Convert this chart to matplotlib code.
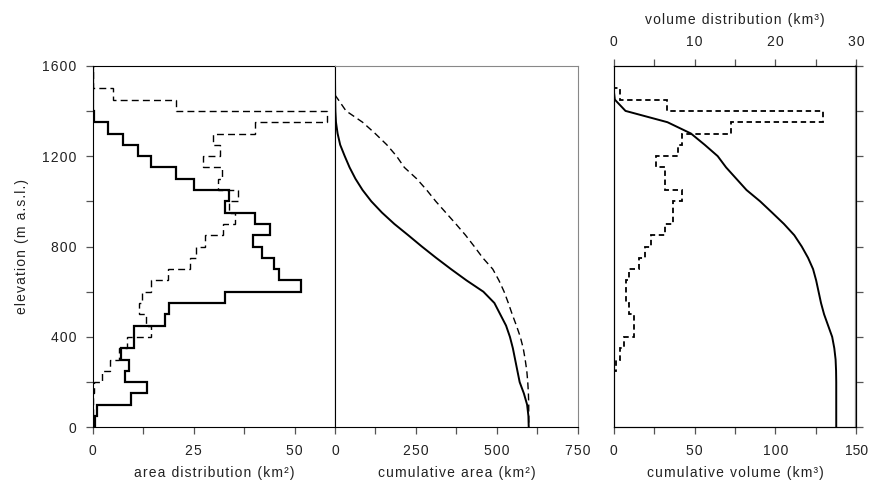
# plot.py
# Elevation profiles: area distribution, cumulative area, volume distribution / cumulative volume.

import numpy as np
import matplotlib.pyplot as plt
from matplotlib.ticker import MultipleLocator, FixedLocator, NullFormatter, FuncFormatter

plt.rcParams['font.family'] = ['Liberation Sans', 'DejaVu Sans']
plt.rcParams['font.size'] = 10

# 50 m elevation bands, edges from 0 to 1600 m a.s.l.
band_edges = np.arange(0, 1650, 50)

# area per band (km2), listed bottom band (0-50) to top band (1550-1600)
area_solid = [0.5, 1.0, 9.6, 13.4, 8.1, 8.9, 7.1, 10.2, 10.2, 17.9, 18.9, 32.8,
              51.5, 46.2, 44.8, 42.0, 39.8, 44.0, 40.3, 32.8, 33.7, 25.0, 20.5,
              14.4, 11.3, 7.4, 3.7, 0.3, 0, 0, 0, 0]
area_dashed = [0.1, 0.1, 0.1, 0.2, 2.2, 4.3, 6.6, 8.6, 14.4, 13.1, 11.5, 12.2,
               14.5, 18.7, 24.0, 25.5, 27.7, 32.2, 35.2, 33.8, 36.1, 31.0, 31.9,
               27.3, 31.6, 29.9, 40.2, 57.9, 20.7, 4.9, 0, 0]

# cumulative area (km2), summed from the top down
cum_elev = [1555, 1500, 1450, 1400, 1350, 1300, 1250, 1200, 1150, 1100, 1050,
            1000, 950, 900, 850, 800, 750, 700, 650, 600, 550, 500, 450, 400,
            350, 300, 250, 200, 150, 100, 50, 0]
cum_area_solid = [0, 0.3, 0.6, 1.2, 3, 8, 16, 30, 45, 63, 85, 112, 145, 183,
                  226, 268, 312, 358, 406, 458, 492, 510, 528, 540, 549, 556,
                  563, 570, 583, 593, 597, 598]
cum_elev_dashed = [1470, 1450, 1400, 1350, 1300, 1250, 1200, 1150, 1100, 1050,
                   1000, 950, 900, 850, 800, 750, 700, 650, 600, 550, 500, 450,
                   400, 350, 300, 250, 200, 150, 100, 0]
cum_area_dashed = [0, 10, 34, 85, 124, 160, 190, 214, 252, 283, 311, 342, 373,
                   403, 430, 456, 487, 506, 522, 535, 547, 560, 572, 581, 587,
                   592, 595, 597, 598, 598]

# volume per band (km3), bands 0-50 ... 1500-1550
vol_edges = np.arange(0, 1600, 50)
vol_dist = [0, 0, 0, 0, 0, 0.25, 0.74, 1.3, 2.5, 2.5, 1.9, 1.5, 1.5, 1.9, 3.1,
            3.9, 4.6, 6.4, 7.3, 7.3, 8.4, 6.3, 6.3, 5.2, 8.0, 8.5, 14.5, 25.9,
            6.6, 0.83, 0]

# cumulative volume (km3)
cum_vol_elev = [1550, 1500, 1450, 1400, 1350, 1300, 1250, 1200, 1150, 1100,
                1050, 1000, 950, 900, 850, 800, 750, 700, 650, 600, 550, 500,
                450, 400, 350, 300, 250, 200, 0]
cum_vol = [0, 0, 0.8, 7.4, 33.3, 47.8, 56.3, 64.3, 69.5, 75.8, 82.1, 90.5,
           97.9, 105.2, 111.6, 116.2, 120.1, 123.2, 125.1, 126.6, 128.1, 130.0,
           132.5, 135.0, 136.3, 137.1, 137.4, 137.5, 137.5]

tick_col = '#555555'
txt_col = '#222222'


def spaced(s, gap='\u200a'):
    # the original lettering is tracked out a little
    return gap.join(s)


tick_fmt = FuncFormatter(lambda v, pos: spaced('%g' % v))
# last label of the right panel sits on the figure edge, keep it tight
edge_fmt = FuncFormatter(lambda v, pos: '%g' % v if v >= 150 else spaced('%g' % v))

fig = plt.figure(figsize=(8.69, 4.94), dpi=100)
ax1 = fig.add_axes([0.1067, 0.135, 0.2788, 0.732])
ax2 = fig.add_axes([0.3855, 0.135, 0.2796, 0.732])
ax3 = fig.add_axes([0.706, 0.135, 0.2796, 0.732])
ax4 = ax3.twiny()

# left: area distribution
ax1.stairs(area_solid, band_edges, orientation='horizontal', baseline=None,
           color='black', lw=1.6)
ax1.stairs(area_dashed, band_edges, orientation='horizontal', baseline=None,
           color='black', lw=1.0, ls=(0, (5, 3)))
ax1.set_xlim(0, 60)
ax1.set_ylim(0, 1600)
ax1.xaxis.set_major_locator(FixedLocator([0, 25, 50]))
ax1.xaxis.set_minor_locator(FixedLocator([12.5, 37.5]))
ax1.yaxis.set_major_locator(MultipleLocator(400))
ax1.yaxis.set_minor_locator(MultipleLocator(200))
ax1.set_xlabel(spaced('area distribution (km²)'), color=txt_col, labelpad=6)
ax1.set_ylabel(spaced('elevation (m a.s.l.)'), color=txt_col, labelpad=9)

# middle: cumulative area
ax2.plot(cum_area_solid, cum_elev, color='black', lw=1.4)
ax2.plot(cum_area_dashed, cum_elev_dashed, color='black', lw=1.0, ls=(0, (5, 3)))
ax2.set_xlim(0, 750)
ax2.set_ylim(0, 1600)
ax2.xaxis.set_major_locator(MultipleLocator(250))
ax2.xaxis.set_minor_locator(MultipleLocator(125))
ax2.set_yticks([])
ax2.set_xlabel(spaced('cumulative area (km²)'), color=txt_col, labelpad=6)
ax2.spines['right'].set_color('#888888')
ax2.spines['top'].set_color('#888888')

# right: cumulative volume (bottom) and volume distribution (top)
ax3.plot(cum_vol, cum_vol_elev, color='black', lw=1.4)
ax3.set_xlim(0, 150)
ax3.set_ylim(0, 1600)
ax3.xaxis.set_major_locator(MultipleLocator(50))
ax3.xaxis.set_minor_locator(MultipleLocator(25))
ax3.yaxis.tick_right()
ax3.yaxis.set_major_locator(MultipleLocator(200))
ax3.yaxis.set_major_formatter(NullFormatter())
ax3.set_xlabel(spaced('cumulative volume (km³)'), color=txt_col, labelpad=6)
ax3.spines['right'].set_color('#888888')
ax3.spines['right'].set_linewidth(1.6)

ax4.stairs(vol_dist, vol_edges, orientation='horizontal', baseline=None,
           color='black', lw=1.3, ls=(0, (3, 2)))
ax4.set_xlim(0, 30)
ax4.set_ylim(0, 1600)
ax4.xaxis.set_major_locator(MultipleLocator(10))
ax4.xaxis.set_minor_locator(MultipleLocator(5))
ax4.set_xlabel(spaced('volume distribution (km³)'), color=txt_col, labelpad=8)

for ax in (ax1, ax2, ax3, ax4):
    ax.xaxis.set_major_formatter(tick_fmt)
    ax.tick_params(which='both', direction='out', length=5, width=0.9,
                   color=tick_col, labelcolor=txt_col, pad=7)
ax1.yaxis.set_major_formatter(tick_fmt)
ax3.xaxis.set_major_formatter(edge_fmt)

fig.savefig('out.png', dpi=100)
